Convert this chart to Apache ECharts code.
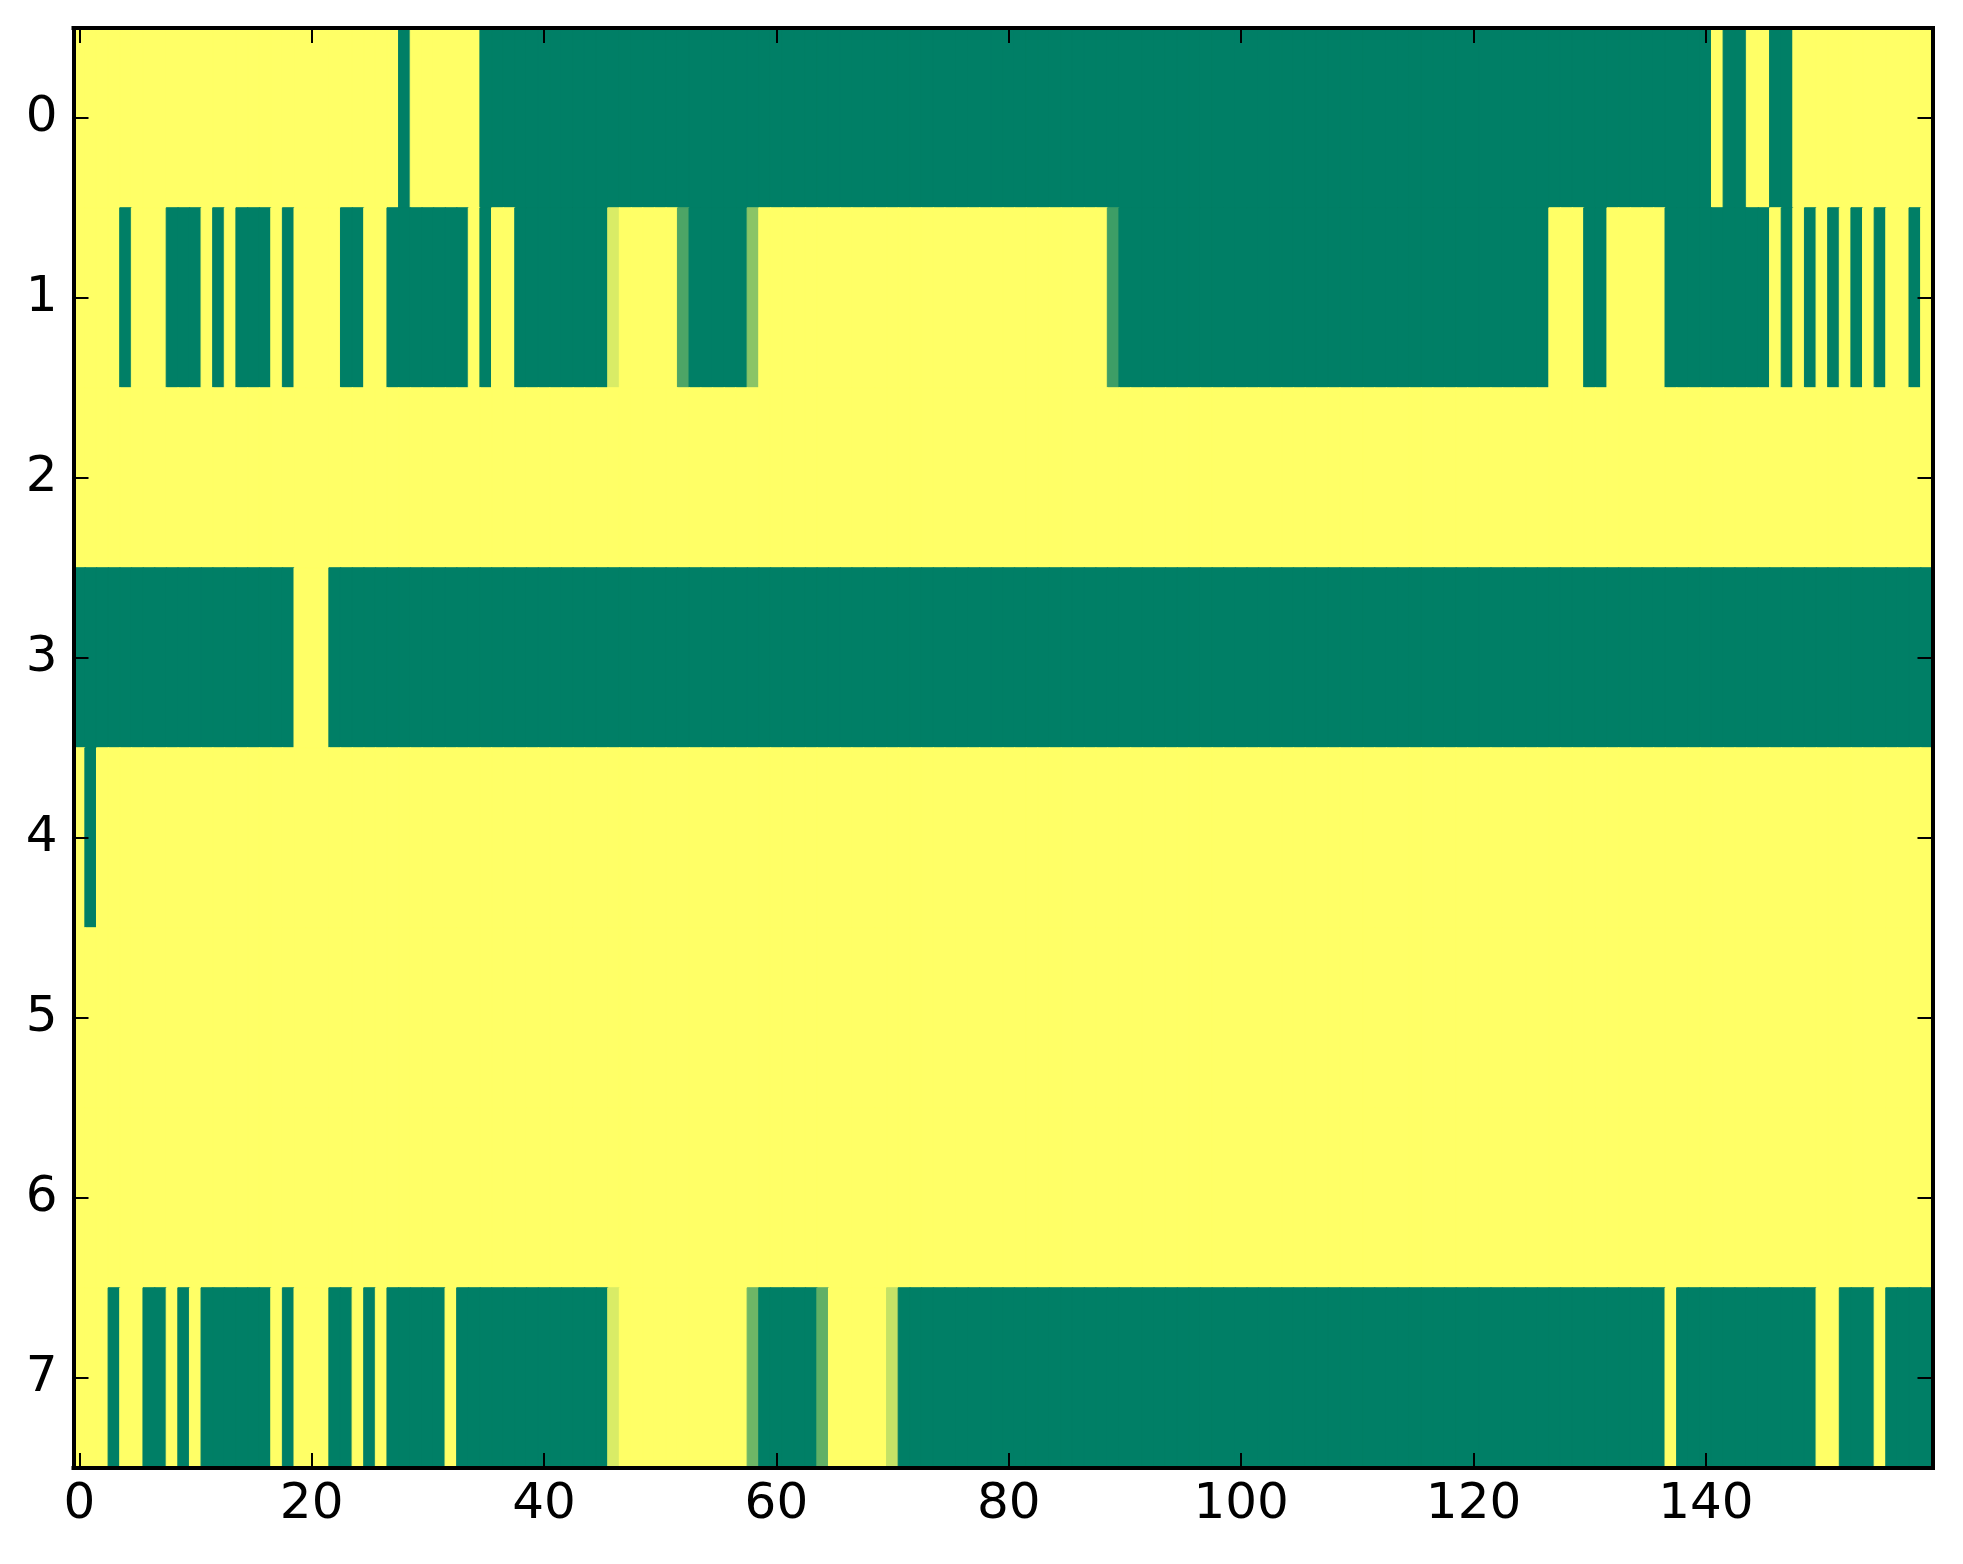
<!DOCTYPE html>
<html>
<head>
<meta charset="utf-8">
<script src="https://cdn.jsdelivr.net/npm/echarts@6/dist/echarts.min.js"></script>
<style>
html,body{margin:0;padding:0;background:#fff;}
#chart{width:1963px;height:1564px;}
</style>
</head>
<body>
<div id="chart"></div>
<script>
// Row values (0 = green, 1 = yellow), 160 columns each
var row0 = [
1,1,1,1,1,1,1,1,1,1,1,1,1,1,1,1,1,1,1,1,
1,1,1,1,1,1,1,1,0,1,1,1,1,1,1,0,0,0,0,0,
0,0,0,0,0,0,0,0,0,0,0,0,0,0,0,0,0,0,0,0,
0,0,0,0,0,0,0,0,0,0,0,0,0,0,0,0,0,0,0,0,
0,0,0,0,0,0,0,0,0,0,0,0,0,0,0,0,0,0,0,0,
0,0,0,0,0,0,0,0,0,0,0,0,0,0,0,0,0,0,0,0,
0,0,0,0,0,0,0,0,0,0,0,0,0,0,0,0,0,0,0,0,
0,1,0,0,1,1,0,0,1,1,1,1,1,1,1,1,1,1,1,1
];
var row1 = [
1,1,1,1,0,1,1,1,0,0,0,1,0,1,0,0,0,1,0,1,
1,1,1,0,0,1,1,0,0,0,0,0,0,0,1,0,1,1,0,0,
0,0,0,0,0,0,0.85,1,1,1,1,1,0.3,0,0,0,0,0,0.54,1,
1,1,1,1,1,1,1,1,1,1,1,1,1,1,1,1,1,1,1,1,
1,1,1,1,1,1,1,1,1,0.24,0,0,0,0,0,0,0,0,0,0,
0,0,0,0,0,0,0,0,0,0,0,0,0,0,0,0,0,0,0,0,
0,0,0,0,0,0,0,1,1,1,0,0,1,1,1,1,1,0,0,0,
0,0,0,0,0,0,1,0,1,0,1,0,1,0,1,0,1,1,0,1
];
var row2 = [
1,1,1,1,1,1,1,1,1,1,1,1,1,1,1,1,1,1,1,1,
1,1,1,1,1,1,1,1,1,1,1,1,1,1,1,1,1,1,1,1,
1,1,1,1,1,1,1,1,1,1,1,1,1,1,1,1,1,1,1,1,
1,1,1,1,1,1,1,1,1,1,1,1,1,1,1,1,1,1,1,1,
1,1,1,1,1,1,1,1,1,1,1,1,1,1,1,1,1,1,1,1,
1,1,1,1,1,1,1,1,1,1,1,1,1,1,1,1,1,1,1,1,
1,1,1,1,1,1,1,1,1,1,1,1,1,1,1,1,1,1,1,1,
1,1,1,1,1,1,1,1,1,1,1,1,1,1,1,1,1,1,1,1
];
var row3 = [
0,0,0,0,0,0,0,0,0,0,0,0,0,0,0,0,0,0,0,1,
1,1,0,0,0,0,0,0,0,0,0,0,0,0,0,0,0,0,0,0,
0,0,0,0,0,0,0,0,0,0,0,0,0,0,0,0,0,0,0,0,
0,0,0,0,0,0,0,0,0,0,0,0,0,0,0,0,0,0,0,0,
0,0,0,0,0,0,0,0,0,0,0,0,0,0,0,0,0,0,0,0,
0,0,0,0,0,0,0,0,0,0,0,0,0,0,0,0,0,0,0,0,
0,0,0,0,0,0,0,0,0,0,0,0,0,0,0,0,0,0,0,0,
0,0,0,0,0,0,0,0,0,0,0,0,0,0,0,0,0,0,0,0
];
var row4 = [
1,0,1,1,1,1,1,1,1,1,1,1,1,1,1,1,1,1,1,1,
1,1,1,1,1,1,1,1,1,1,1,1,1,1,1,1,1,1,1,1,
1,1,1,1,1,1,1,1,1,1,1,1,1,1,1,1,1,1,1,1,
1,1,1,1,1,1,1,1,1,1,1,1,1,1,1,1,1,1,1,1,
1,1,1,1,1,1,1,1,1,1,1,1,1,1,1,1,1,1,1,1,
1,1,1,1,1,1,1,1,1,1,1,1,1,1,1,1,1,1,1,1,
1,1,1,1,1,1,1,1,1,1,1,1,1,1,1,1,1,1,1,1,
1,1,1,1,1,1,1,1,1,1,1,1,1,1,1,1,1,1,1,1
];
var row5 = [
1,1,1,1,1,1,1,1,1,1,1,1,1,1,1,1,1,1,1,1,
1,1,1,1,1,1,1,1,1,1,1,1,1,1,1,1,1,1,1,1,
1,1,1,1,1,1,1,1,1,1,1,1,1,1,1,1,1,1,1,1,
1,1,1,1,1,1,1,1,1,1,1,1,1,1,1,1,1,1,1,1,
1,1,1,1,1,1,1,1,1,1,1,1,1,1,1,1,1,1,1,1,
1,1,1,1,1,1,1,1,1,1,1,1,1,1,1,1,1,1,1,1,
1,1,1,1,1,1,1,1,1,1,1,1,1,1,1,1,1,1,1,1,
1,1,1,1,1,1,1,1,1,1,1,1,1,1,1,1,1,1,1,1
];
var row6 = [
1,1,1,1,1,1,1,1,1,1,1,1,1,1,1,1,1,1,1,1,
1,1,1,1,1,1,1,1,1,1,1,1,1,1,1,1,1,1,1,1,
1,1,1,1,1,1,1,1,1,1,1,1,1,1,1,1,1,1,1,1,
1,1,1,1,1,1,1,1,1,1,1,1,1,1,1,1,1,1,1,1,
1,1,1,1,1,1,1,1,1,1,1,1,1,1,1,1,1,1,1,1,
1,1,1,1,1,1,1,1,1,1,1,1,1,1,1,1,1,1,1,1,
1,1,1,1,1,1,1,1,1,1,1,1,1,1,1,1,1,1,1,1,
1,1,1,1,1,1,1,1,1,1,1,1,1,1,1,1,1,1,1,1
];
var row7 = [
1,1,1,0,1,1,0,0,1,0,1,0,0,0,0,0,0,1,0,1,
1,1,0,0,1,0,1,0,0,0,0,0,1,0,0,0,0,0,0,0,
0,0,0,0,0,0,0.85,1,1,1,1,1,1,1,1,1,1,1,0.43,0,
0,0,0,0,0.38,1,1,1,1,1,0.77,0,0,0,0,0,0,0,0,0,
0,0,0,0,0,0,0,0,0,0,0,0,0,0,0,0,0,0,0,0,
0,0,0,0,0,0,0,0,0,0,0,0,0,0,0,0,0,0,0,0,
0,0,0,0,0,0,0,0,0,0,0,0,0,0,0,0,0,1,0,0,
0,0,0,0,0,0,0,0,0,0,1,1,0,0,0,1,0,0,0,0
];
var rows = [row0, row1, row2, row3, row4, row5, row6, row7];

var yCategories = ['0','1','2','3','4','5','6','7'];
var xTickLabels = ['0','20','40','60','80','100','120','140'];
var colorRange = ['#007f66', '#ffff66'];

var xCategories = [];
for (var i = 0; i < row0.length; i++) xCategories.push(String(i));

var heatData = [];
rows.forEach(function (r, y) {
  r.forEach(function (v, x) {
    var c = echarts.color.lerp(v, colorRange);
    heatData.push({ value: [x, y, v], itemStyle: { borderColor: c } });
  });
});

var FONT = 'DejaVu Sans';
function xShow(idx) { return xTickLabels.indexOf(String(idx)) >= 0; }

var tickStyle = { show: true, inside: true, length: 15, alignWithLabel: true, lineStyle: { color: '#000', width: 2 } };
var lineStyle = { show: true, lineStyle: { color: '#000', width: 4, cap: 'square' } };

var chart = echarts.init(document.getElementById('chart'), null, { renderer: 'canvas' });
chart.setOption({
  animation: false,
  backgroundColor: '#ffffff',
  grid: { left: 73.5, right: 30.5, top: 28, bottom: 96, containLabel: false },
  xAxis: [
    {
      type: 'category', data: xCategories, position: 'bottom', z: 10,
      axisLine: lineStyle,
      axisTick: Object.assign({}, tickStyle, { interval: function (i) { return xShow(i); } }),
      axisLabel: { interval: function (i) { return xShow(i); }, fontSize: 50, fontFamily: FONT, color: '#000', margin: 12 },
      splitLine: { show: false }
    },
    {
      type: 'category', data: xCategories, position: 'top', z: 10,
      axisLine: lineStyle,
      axisTick: Object.assign({}, tickStyle, { interval: function (i) { return xShow(i); } }),
      axisLabel: { show: false },
      splitLine: { show: false }
    }
  ],
  yAxis: [
    {
      type: 'category', data: yCategories, inverse: true, position: 'left', z: 10,
      axisLine: lineStyle,
      axisTick: Object.assign({}, tickStyle, { interval: 0 }),
      axisLabel: { interval: 0, fontSize: 50, fontFamily: FONT, color: '#000', margin: 16, padding: [4, 0, 0, 0] },
      splitLine: { show: false }
    },
    {
      type: 'category', data: yCategories, inverse: true, position: 'right', z: 10,
      axisLine: lineStyle,
      axisTick: Object.assign({}, tickStyle, { interval: 0 }),
      axisLabel: { show: false },
      splitLine: { show: false }
    }
  ],
  visualMap: {
    show: false, type: 'continuous', min: 0, max: 1, dimension: 2,
    seriesIndex: 0,
    inRange: { color: colorRange }
  },
  series: [{
    type: 'heatmap',
    xAxisIndex: 0, yAxisIndex: 0,
    data: heatData,
    itemStyle: { borderWidth: 1 },
    emphasis: { disabled: true },
    progressive: 0
  }]
});
</script>
</body>
</html>
